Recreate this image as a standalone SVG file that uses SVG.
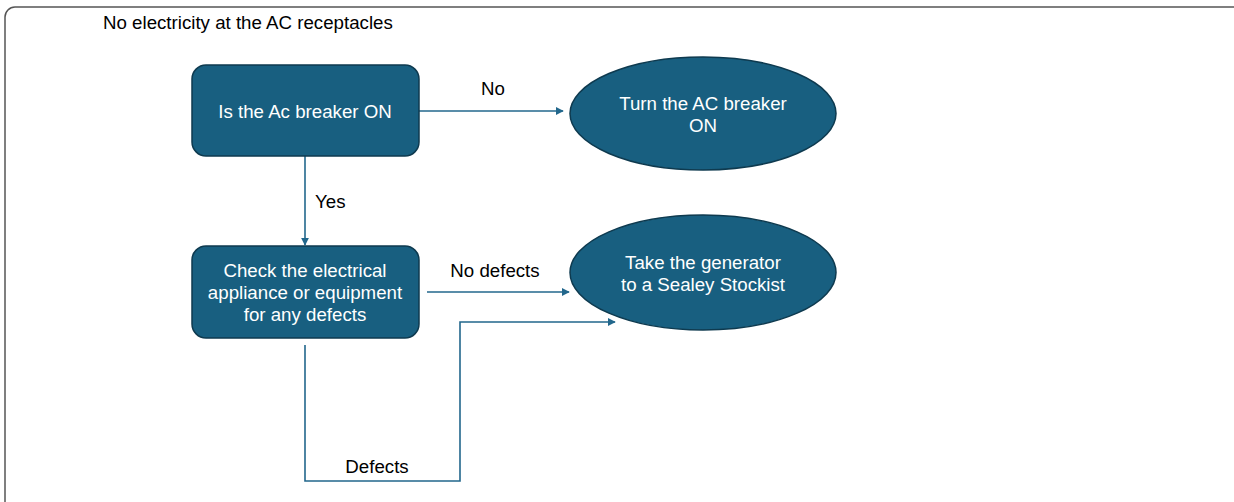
<svg xmlns="http://www.w3.org/2000/svg" width="1234" height="502" viewBox="0 0 1234 502">
<style>
.node{fill:#185f80;stroke:#0e3a4f;stroke-width:1.5}
.nt{font-family:"Liberation Sans",Arial,sans-serif;font-size:18.7px;fill:#ffffff;text-anchor:middle}
.lbl{font-family:"Liberation Sans",Arial,sans-serif;font-size:18.7px;fill:#000000}
.conn{fill:none;stroke:#22678c;stroke-width:1.6}
</style>
<defs>
<marker id="arr" viewBox="0 0 10 10" refX="9" refY="5" markerWidth="8" markerHeight="8" markerUnits="userSpaceOnUse" orient="auto">
<path d="M0,0 L10,5 L0,10 Z" fill="#22678c"/>
</marker>
</defs>
<rect x="5" y="7" width="1260" height="520" rx="10" fill="#ffffff" stroke="#555555" stroke-width="1.5"/>
<text class="lbl" x="103" y="29">No electricity at the AC receptacles</text>
<g id="connectors">
<path class="conn" d="M419,111 L563,111" marker-end="url(#arr)"/>
<path class="conn" d="M305,156 L305,245" marker-end="url(#arr)"/>
<path class="conn" d="M427,292 L569,292" marker-end="url(#arr)"/>
<path class="conn" d="M305,345 L305,481 L460,481 L460,322 L615,322" marker-end="url(#arr)"/>
<text class="lbl" x="493" y="95" text-anchor="middle">No</text>
<text class="lbl" x="315" y="208">Yes</text>
<text class="lbl" x="495" y="277" text-anchor="middle">No defects</text>
<text class="lbl" x="377" y="473" text-anchor="middle">Defects</text>
</g>
<g id="n1">
<rect class="node" x="192" y="65" width="227" height="91" rx="14"/>
<text class="nt" x="305" y="118">Is the Ac breaker ON</text>
</g>
<g id="n2">
<ellipse class="node" cx="703" cy="113.5" rx="133" ry="56.5"/>
<text class="nt" x="703" y="110">Turn the AC breaker</text>
<text class="nt" x="703" y="132">ON</text>
</g>
<g id="n3">
<rect class="node" x="192" y="246" width="227" height="92" rx="14"/>
<text class="nt" x="305" y="277">Check the electrical</text>
<text class="nt" x="305" y="299">appliance or equipment</text>
<text class="nt" x="305" y="321">for any defects</text>
</g>
<g id="n4">
<ellipse class="node" cx="703" cy="272.5" rx="133" ry="57.5"/>
<text class="nt" x="703" y="269">Take the generator</text>
<text class="nt" x="703" y="291">to a Sealey Stockist</text>
</g>
</svg>
